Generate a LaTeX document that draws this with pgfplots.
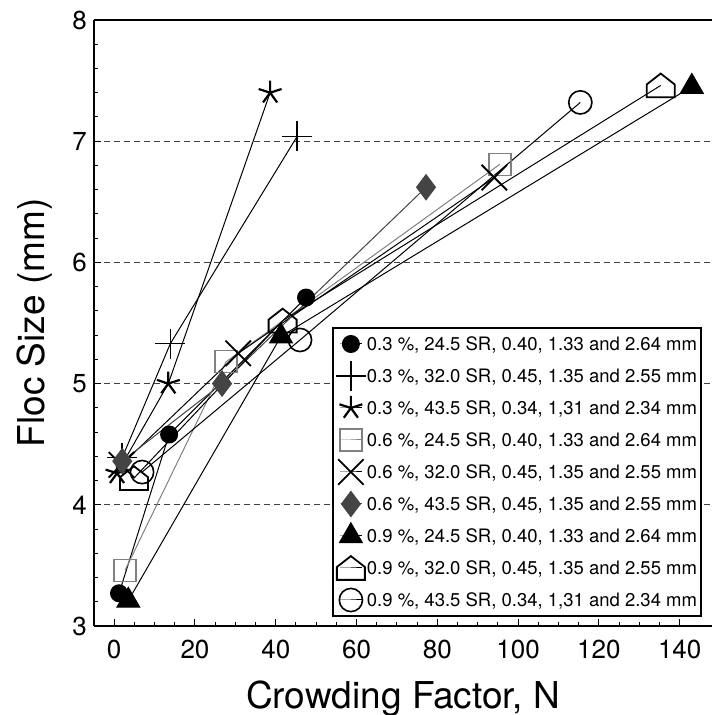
\documentclass[border=0pt]{standalone}
\usepackage{fontspec}
\setmainfont{TeX Gyre Heros}
\usepackage{pgfplots}
\pgfplotsset{compat=1.18}
\usetikzlibrary{plotmarks}

\definecolor{midgray}{HTML}{808080}
\definecolor{dkgray}{HTML}{444444}

% house shaped mark (square body with a roof)
\pgfdeclareplotmark{house}{%
  \pgfpathmoveto{\pgfqpoint{-\pgfplotmarksize}{-0.85\pgfplotmarksize}}%
  \pgfpathlineto{\pgfqpoint{\pgfplotmarksize}{-0.85\pgfplotmarksize}}%
  \pgfpathlineto{\pgfqpoint{\pgfplotmarksize}{0.07\pgfplotmarksize}}%
  \pgfpathlineto{\pgfqpoint{0pt}{0.85\pgfplotmarksize}}%
  \pgfpathlineto{\pgfqpoint{-\pgfplotmarksize}{0.07\pgfplotmarksize}}%
  \pgfpathclose
  \pgfusepathqstroke
}

\pgfplotsset{every non boxed y axis/.style={}}

\begin{document}
\begin{tikzpicture}
\begin{axis}[
  name=ax,
  scale only axis, width=309pt, height=303pt,
  xmin=-5, xmax=148, ymin=3, ymax=8,
  enlargelimits=false,
  axis x line=box, axis y line=left,
  y axis line style={-},
  axis line style={line width=1.3pt},
  xtick={0,20,...,140}, minor x tick num=3,
  ytick={3,...,8}, minor y tick num=4,
  xtick pos=left, ytick pos=left,
  tick align=inside,
  major tick length=3.5pt, minor tick length=2pt,
  tick style={line width=0.5pt, black},
  ymajorgrids,
  major grid style={dash pattern=on 3pt off 2pt, line width=0.5pt, black!75},
  /pgf/number format/assume math mode=true,
  tick label style={font=\fontsize{13}{15}\selectfont},
  xticklabel style={yshift=-3.5pt},
  xlabel={Crowding Factor, N},
  ylabel={Floc Size (mm)},
  xlabel style={font=\fontsize{18.5}{22}\selectfont, at={([yshift=-41pt]axis description cs:0.5,0)}, anchor=base},
  ylabel style={font=\fontsize{18.5}{22}\selectfont, at={([xshift=-24.5pt]axis description cs:0,0.5)}, anchor=base},
  legend cell align=left,
  legend style={at={(1,0)}, anchor=south east, xshift=-5pt, yshift=4.5pt,
    draw=black, line width=1pt, fill=white,
    font=\fontsize{9.25}{11}\selectfont,
    inner xsep=1.5pt, inner ysep=0pt, row sep=0pt,
    nodes={inner xsep=0.5pt, inner ysep=0pt, minimum height=16pt, text height=7.5pt, text depth=1pt}},
  legend image code/.code={\draw[mark repeat=2,mark phase=2,#1] plot coordinates {(0pt,0pt)(5.5pt,0pt)(11pt,0pt)};},
]
\addplot[black, line width=0.5pt, mark=*, mark size=4.25pt, mark options={solid, fill=black}]
  coordinates {(1.2,3.27) (13.6,4.58) (47.5,5.71)};
\addlegendentry{0.3 \%, 24.5 SR, 0.40, 1.33 and 2.64 mm}
\addplot[black, line width=0.5pt, mark=+, mark size=7.5pt, mark options={solid, line width=0.8pt}]
  coordinates {(2.0,4.39) (13.9,5.33) (45.3,7.04)};
\addlegendentry{0.3 \%, 32.0 SR, 0.45, 1.35 and 2.55 mm}
\addplot[black, line width=0.5pt, mark=star, mark size=6pt, mark options={solid, line width=1.1pt}]
  coordinates {(0.7,4.26) (13.4,5.00) (38.6,7.40)};
\addlegendentry{0.3 \%, 43.5 SR, 0.34, 1,31 and 2.34 mm}
\addplot[midgray, line width=0.5pt, mark=square, mark size=5.5pt, mark options={solid, line width=0.7pt}]
  coordinates {(2.7,3.46) (27.7,5.18) (95.5,6.81)};
\addlegendentry{0.6 \%, 24.5 SR, 0.40, 1.33 and 2.64 mm}
\addplot[black, line width=0.5pt, mark=x, mark size=9pt, mark options={solid, line width=0.9pt}]
  coordinates {(1.8,4.33) (30.7,5.25) (94.1,6.70)};
\addlegendentry{0.6 \%, 32.0 SR, 0.45, 1.35 and 2.55 mm}
\addplot[dkgray, line width=0.5pt, mark=diamond*, mark size=6.3pt, mark options={solid, fill=dkgray}]
  coordinates {(2.0,4.36) (26.7,5.00) (77.2,6.62)};
\addlegendentry{0.6 \%, 43.5 SR, 0.45, 1.35 and 2.55 mm}
\addplot[black, line width=0.5pt, mark=triangle*, mark size=6.6pt, mark options={solid, fill=black}]
  coordinates {(3.5,3.21) (41.3,5.39) (143.0,7.45)};
\addlegendentry{0.9 \%, 24.5 SR, 0.40, 1.33 and 2.64 mm}
\addplot[black, line width=0.5pt, mark=house, mark size=7pt, mark options={solid, line width=0.9pt}]
  coordinates {(4.9,4.22) (41.7,5.52) (135.3,7.46)};
\addlegendentry{0.9 \%, 32.0 SR, 0.45, 1.35 and 2.55 mm}
\addplot[black, line width=0.5pt, mark=o, mark size=5.8pt, mark options={solid, line width=0.8pt}]
  coordinates {(6.9,4.27) (46.0,5.36) (115.4,7.32)};
\addlegendentry{0.9 \%, 43.5 SR, 0.34, 1,31 and 2.34 mm}
\end{axis}
\pgfresetboundingbox
\path[use as bounding box] ([shift={(-47pt,-44.5pt)}]ax.south west) rectangle ([shift={(0pt,10pt)}]ax.north east);
\end{tikzpicture}
\end{document}
